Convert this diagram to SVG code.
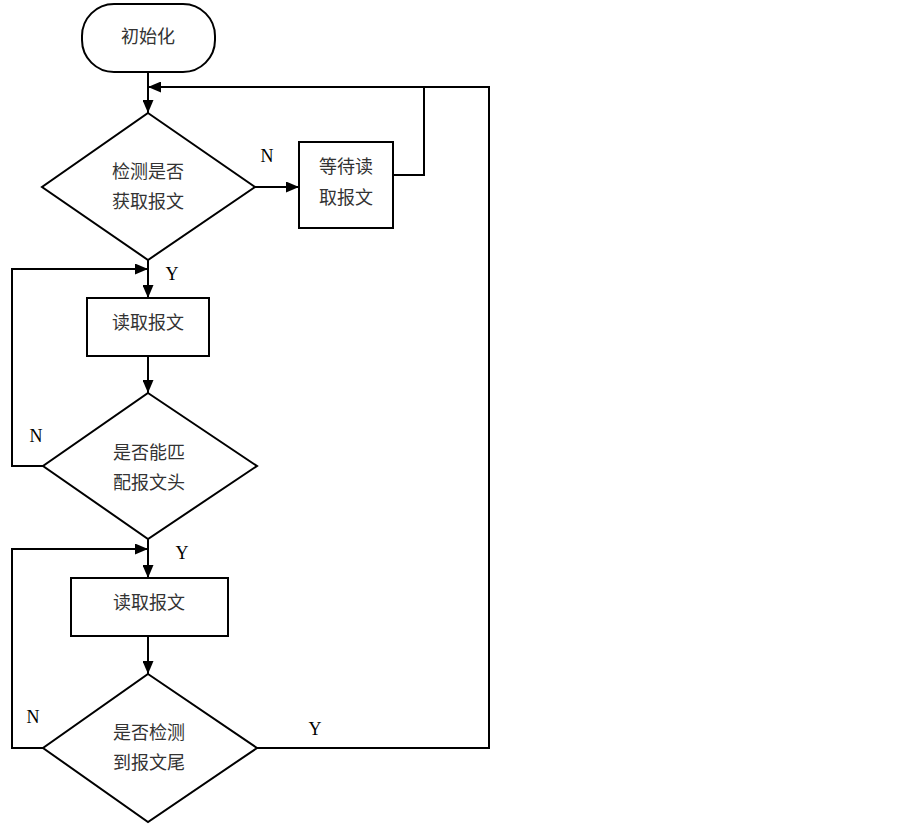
<svg xmlns="http://www.w3.org/2000/svg" width="903" height="825" viewBox="0 0 903 825">
<defs>
<marker id="ah" markerWidth="13" markerHeight="11" refX="13" refY="5.5" orient="auto" markerUnits="userSpaceOnUse">
<path d="M0,0 L13,5.5 L0,11 Z" fill="#000"/>
</marker>
<style>
.shape{fill:#fff;stroke:#000;stroke-width:2}
.cn{font-family:"Liberation Serif","Noto Sans CJK SC",serif;font-size:18px;fill:#333;text-anchor:middle}
.lbl{font-family:"Liberation Serif",serif;font-size:18px;fill:#000;text-anchor:middle}
.ln{fill:none;stroke:#000;stroke-width:2}
</style>
</defs>
<rect width="903" height="825" fill="#fff"/>
<g id="connectors">
<path class="ln" d="M148,72 V113" marker-end="url(#ah)"/>
<path class="ln" d="M255,187 H299" marker-end="url(#ah)"/>
<path class="ln" d="M393,175 H424 V87"/>
<path class="ln" d="M257,748 H489 V87 H148" marker-end="url(#ah)"/>
<path class="ln" d="M148,260 V298" marker-end="url(#ah)"/>
<path class="ln" d="M43,466 H12 V269 H148" marker-end="url(#ah)"/>
<path class="ln" d="M148,356 V393" marker-end="url(#ah)"/>
<path class="ln" d="M148,539 V578" marker-end="url(#ah)"/>
<path class="ln" d="M43,748 H12 V549 H148" marker-end="url(#ah)"/>
<path class="ln" d="M148,636 V674" marker-end="url(#ah)"/>
<text class="lbl" x="267" y="162">N</text>
<text class="lbl" x="172" y="280">Y</text>
<text class="lbl" x="36" y="442">N</text>
<text class="lbl" x="182" y="559">Y</text>
<text class="lbl" x="33" y="723">N</text>
<text class="lbl" x="315" y="735">Y</text>
</g>
<g id="start">
<rect class="shape" x="82" y="4" width="133" height="68" rx="32" ry="32"/>
<text class="cn" x="148" y="43">初始化</text>
</g>
<g id="check_recv">
<polygon class="shape" points="148,113 255,187 148,260 42,187"/>
<text class="cn" x="148" y="178">检测是否</text>
<text class="cn" x="148" y="208">获取报文</text>
</g>
<g id="wait">
<rect class="shape" x="299" y="142" width="94" height="86"/>
<text class="cn" x="346" y="173">等待读</text>
<text class="cn" x="346" y="204">取报文</text>
</g>
<g id="read1">
<rect class="shape" x="87" y="298" width="122" height="58"/>
<text class="cn" x="148" y="329">读取报文</text>
</g>
<g id="check_head">
<polygon class="shape" points="148,393 257,466 148,539 43,466"/>
<text class="cn" x="149" y="459">是否能匹</text>
<text class="cn" x="149" y="489">配报文头</text>
</g>
<g id="read2">
<rect class="shape" x="71" y="578" width="157" height="58"/>
<text class="cn" x="149" y="609">读取报文</text>
</g>
<g id="check_tail">
<polygon class="shape" points="148,674 257,748 148,822 43,748"/>
<text class="cn" x="149" y="739">是否检测</text>
<text class="cn" x="149" y="769">到报文尾</text>
</g>
</svg>
